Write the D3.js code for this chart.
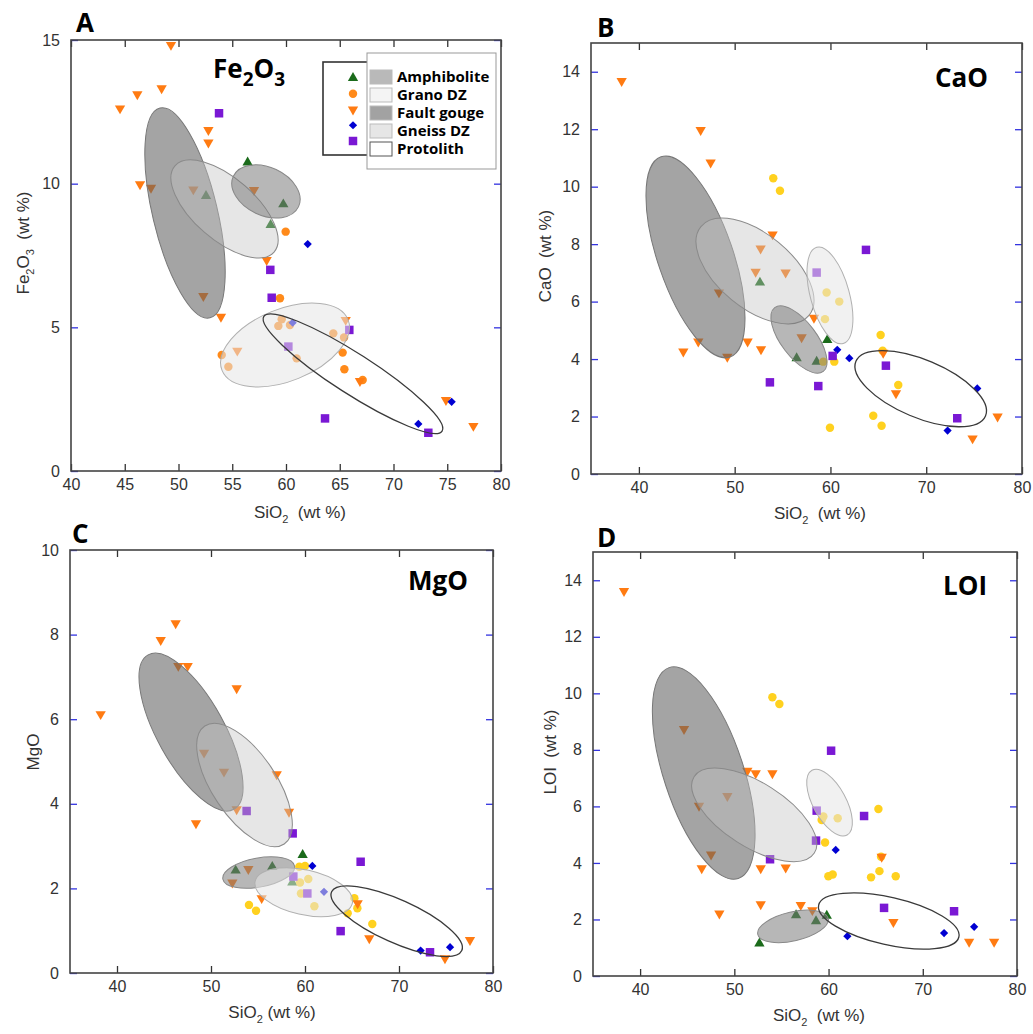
<!DOCTYPE html>
<html>
<head>
<meta charset="utf-8">
<script src="https://cdn.jsdelivr.net/npm/d3@7"></script>
<style>
  body { margin: 0; background: #fff; }
  svg { display: block; }
  .tick text { font-family: "Liberation Sans", Arial, sans-serif; font-size: 16px; fill: #333; }
  .bold { font-family: "Open Sans", "Noto Sans", sans-serif; font-weight: 700; fill: #000; }
  .atitle { font-family: "Liberation Sans", Arial, sans-serif; font-size: 17px; fill: #333; white-space: pre; }
</style>
</head>
<body>
<svg id="chart" width="1033" height="1034"></svg>
<script>
// categories
const groups = ["Amphibolite", "Grano DZ", "Fault gouge", "Gneiss DZ", "Protolith"];

// ---- A: Fe2O3 vs SiO2 ----
const feAmph = [[56.43,10.74],[52.56,9.57],[59.75,9.28],[58.57,8.56]];
const feGrano = [[59.97,8.33],[59.44,6.01],[59.6,5.28],[59.29,5.05],[60.37,5.08],[54.02,4.04],[54.64,3.63],
  [60.99,3.92],[64.4,4.79],[65.4,4.65],[65.27,4.12],[65.43,3.54],[67.13,3.17]];
const feFault = [[49.3,14.83],[44.56,12.62],[46.17,13.11],[48.43,13.32],[52.78,11.87],[52.78,11.43],[46.42,9.98],
  [47.44,9.86],[51.38,9.8],[57.02,9.78],[58.2,7.34],[52.31,6.09],[53.95,5.37],[55.47,4.19],[65.55,5.26],
  [66.88,3.13],[74.88,2.47],[77.43,1.57]];
const feGneiss = [[62.02,7.9],[60.62,5.16],[75.41,2.41],[72.31,1.64]];
const feProto = [[53.77,12.45],[58.54,7.0],[58.67,6.03],[65.89,4.91],[60.22,4.33],[63.63,1.83],[73.24,1.33]];
// ellipses: group, major axis end 1 (SiO2, oxide), end 2, minor/major ratio
const feEllipses = [
  ["Fault gouge", 48.28, 12.63, 52.93, 5.33, 0.30],
  ["Gneiss DZ", 49.67, 10.62, 58.89, 7.62, 0.47],
  ["Amphibolite", 55.1, 10.26, 61.17, 9.2, 0.67],
  ["Grano DZ", 54.05, 3.5, 65.77, 5.27, 0.53],
  ["Protolith", 57.94, 5.38, 74.52, 1.39, 0.19]
];

// ---- B: CaO vs SiO2 ----
const caAmph = [[52.64,6.66],[59.67,4.66],[56.47,4.03],[58.56,3.91]];
const caGrano = [[54.03,10.29],[54.73,9.86],[59.6,6.32],[60.92,6.0],[59.43,5.39],[59.25,3.91],[60.4,3.91],
  [65.24,4.84],[65.45,4.29],[67.08,3.1],[64.47,2.03],[65.34,1.68],[59.95,1.61]];
const caFault = [[38.2,13.68],[46.45,11.97],[47.49,10.84],[53.96,8.34],[52.71,7.85],[52.19,7.04],[55.32,7.01],
  [48.36,6.32],[58.28,5.44],[56.99,4.76],[44.64,4.26],[46.2,4.61],[49.23,4.08],[51.35,4.61],[52.75,4.34],
  [65.51,4.22],[66.84,2.81],[77.45,2.0],[74.84,1.24]];
const caGneiss = [[60.71,4.32],[61.97,4.03],[75.33,2.98],[72.23,1.51]];
const caProto = [[63.71,7.8],[58.56,7.01],[60.23,4.11],[65.79,3.77],[53.68,3.19],[58.73,3.06],[73.24,1.94]];
const caEllipses = [
  ["Fault gouge", 42.31, 11.04, 49.51, 4.07, 0.355],
  ["Gneiss DZ", 46.48, 8.61, 57.76, 5.52, 0.53],
  ["Amphibolite", 54.18, 5.79, 59.25, 3.57, 0.44],
  ["Grano DZ", 58.57, 7.89, 61.33, 4.54, 0.39],
  ["Protolith", 62.66, 3.92, 76.19, 2.02, 0.41]
];

// ---- C: MgO vs SiO2 ----
const mgAmph = [[52.62,2.42],[56.52,2.51],[59.75,2.79],[58.65,2.14]];
const mgGrano = [[59.4,2.51],[60.0,2.53],[59.47,2.14],[60.35,2.22],[59.57,1.88],[61.0,1.58],[54.04,1.61],
  [54.79,1.47],[64.54,1.41],[65.25,1.77],[65.57,1.53],[67.16,1.16]];
const mgFault = [[38.26,6.12],[44.65,7.87],[46.24,8.27],[46.52,7.26],[47.52,7.26],[52.73,6.73],[49.26,5.21],
  [51.38,4.76],[56.99,4.7],[52.73,3.87],[58.3,3.81],[48.4,3.54],[53.97,2.46],[52.27,2.14],[55.39,1.77],
  [65.6,1.65],[66.84,0.82],[77.55,0.78],[74.89,0.35]];
const mgGneiss = [[60.78,2.53],[62.02,1.92],[75.43,0.61],[72.3,0.53]];
const mgProto = [[53.79,3.83],[58.69,3.3],[65.92,2.63],[58.76,2.28],[60.25,1.88],[63.79,0.99],[73.3,0.49]];
const mgEllipses = [
  ["Fault gouge", 43.31, 7.52, 52.44, 3.87, 0.38],
  ["Gneiss DZ", 49.34, 5.84, 57.79, 3.05, 0.45],
  ["Amphibolite", 51.26, 2.22, 58.89, 2.53, 0.4],
  ["Grano DZ", 54.7, 2.17, 65.04, 1.65, 0.45],
  ["Protolith", 62.83, 1.92, 76.68, 0.53, 0.3]
];

// ---- D: LOI vs SiO2 ----
const loiAmph = [[56.55,2.15],[58.67,1.94],[59.81,2.13],[52.66,1.15]];
const loiGrano = [[54.04,9.86],[54.78,9.62],[59.45,5.64],[59.27,5.52],[60.97,5.58],[59.63,4.72],[65.29,5.91],
  [65.57,4.22],[59.98,3.53],[60.44,3.59],[64.51,3.49],[65.4,3.71],[67.13,3.53]];
const loiFault = [[38.29,13.62],[44.66,8.74],[49.26,6.37],[46.25,6.02],[47.53,4.3],[51.38,7.26],[52.27,7.17],
  [54.04,7.17],[46.54,3.81],[52.8,3.81],[55.45,3.84],[48.41,2.21],[52.8,2.54],[57.05,2.51],[58.28,2.33],
  [65.64,4.22],[66.88,1.91],[74.92,1.21],[77.57,1.21]];
const loiGneiss = [[60.76,4.46],[62.0,1.41],[72.26,1.52],[75.45,1.74]];
const loiProto = [[60.27,7.97],[58.74,5.85],[58.67,4.79],[53.79,4.13],[63.77,5.66],[65.89,2.41],[73.32,2.29]];
const loiEllipses = [
  ["Fault gouge", 43.08, 10.91, 50.42, 3.45, 0.36],
  ["Gneiss DZ", 45.73, 7.05, 58.49, 4.35, 0.45],
  ["Amphibolite", 52.49, 1.47, 59.97, 2.04, 0.4],
  ["Grano DZ", 58.24, 7.28, 61.97, 4.99, 0.45],
  ["Protolith", 58.95, 2.51, 73.83, 1.38, 0.33]
];

// tick values
const xTicksA = [40, 45, 50, 55, 60, 65, 70, 75, 80];
const xTicks = [40, 50, 60, 70, 80];
const yTicksA = [0, 5, 10, 15];
const yTicks15 = [0, 2, 4, 6, 8, 10, 12, 14];
const yTicks10 = [0, 2, 4, 6, 8, 10];

// ---------------- styles ----------------
const markerColor = {
  "Amphibolite": "#1b6b1b", "Grano DZ": "#ffd11f", "Fault gouge": "#ff7b12",
  "Gneiss DZ": "#0000d2", "Protolith": "#7a18d4"
};
const ellipseStyle = {
  "Fault gouge": {fill: "#626262", op: 0.58, stroke: "#777"},
  "Gneiss DZ":   {fill: "#c4c4c4", op: 0.42, stroke: "#8a8a8a"},
  "Amphibolite": {fill: "#7c7c7c", op: 0.55, stroke: "#888"},
  "Grano DZ":    {fill: "#e6e6e6", op: 0.55, stroke: "#b0b0b0"},
  "Protolith":   {fill: "none", op: 1, stroke: "#3a3a3a"}
};
const swatchFill = {
  "Amphibolite": "#b9b9b9", "Grano DZ": "#f4f4f4", "Fault gouge": "#a2a2a2",
  "Gneiss DZ": "#e6e6e6", "Protolith": "#fff"
};

const svg = d3.select("#chart");

function symbolPath(group) {
  if (group === "Amphibolite" || group === "Fault gouge") return d3.symbol(d3.symbolTriangle, 46)();
  if (group === "Grano DZ") return d3.symbol(d3.symbolCircle, 56)();
  if (group === "Gneiss DZ") return d3.symbol(d3.symbolSquare, 34)();
  return d3.symbol(d3.symbolSquare, 72)();
}
function symbolRotate(group) {
  if (group === "Fault gouge") return 180;
  if (group === "Gneiss DZ") return 45;
  return 0;
}

const panels = [
  {letter: "A", left: 71, top: 40, right: 501, bottom: 471, xDomain: [40, 80], yDomain: [0, 15],
   xTicks: xTicksA, yTicks: yTicksA, grano: "#ff8a1a",
   series: [feAmph, feGrano, feFault, feGneiss, feProto], ellipses: feEllipses,
   title: [["Fe", 0], ["2", 1], ["O", 0], ["3", 1]], titleX: 213, titleY: 78, titleAnchor: "start",
   ytitle: [["Fe", 0], ["2", 1], ["O", 0], ["3", 1], ["\u00a0 (wt %)", 0]], ytX: 29, ytY: 243,
   xtX: 300, xtY: 518, letterX: 76, letterY: 32},
  {letter: "B", left: 591, top: 43, right: 1022, bottom: 474, xDomain: [35, 80], yDomain: [0, 15],
   xTicks: xTicks, yTicks: yTicks15, grano: markerColor["Grano DZ"],
   series: [caAmph, caGrano, caFault, caGneiss, caProto], ellipses: caEllipses,
   title: [["CaO", 0]], titleX: 988, titleY: 87, titleAnchor: "end",
   ytitle: [["CaO\u00a0 (wt %)", 0]], ytX: 551, ytY: 256,
   xtX: 820, xtY: 519, letterX: 597, letterY: 37},
  {letter: "C", left: 70, top: 550, right: 493, bottom: 973, xDomain: [35, 80], yDomain: [0, 10],
   xTicks: xTicks, yTicks: yTicks10, grano: markerColor["Grano DZ"],
   series: [mgAmph, mgGrano, mgFault, mgGneiss, mgProto], ellipses: mgEllipses,
   title: [["MgO", 0]], titleX: 468, titleY: 590, titleAnchor: "end",
   ytitle: [["MgO", 0]], ytX: 39, ytY: 752,
   xtX: 272, xtY: 1018, letterX: 72, letterY: 543},
  {letter: "D", left: 593, top: 552, right: 1017, bottom: 976, xDomain: [35, 80], yDomain: [0, 15],
   xTicks: xTicks, yTicks: yTicks15, grano: markerColor["Grano DZ"],
   series: [loiAmph, loiGrano, loiFault, loiGneiss, loiProto], ellipses: loiEllipses,
   title: [["LOI", 0]], titleX: 987, titleY: 595, titleAnchor: "end",
   ytitle: [["LOI\u00a0 (wt %)", 0]], ytX: 556, ytY: 752,
   xtX: 819, xtY: 1021, letterX: 597, letterY: 547}
];

// write text made of normal and subscript pieces
function richText(sel, parts, size, subSize) {
  let shifted = false;
  parts.forEach(function(p) {
    const t = sel.append("tspan").text(p[0]);
    if (p[1] && !shifted) { t.attr("dy", size * 0.3).style("font-size", subSize + "px"); shifted = true; }
    else if (!p[1] && shifted) { t.attr("dy", -size * 0.3); shifted = false; }
    else if (p[1]) { t.style("font-size", subSize + "px"); }
  });
}

panels.forEach(drawPanel);
drawLegend();

function drawPanel(p) {
  const x = d3.scaleLinear().domain(p.xDomain).range([p.left, p.right]);
  const y = d3.scaleLinear().domain(p.yDomain).range([p.bottom, p.top]);
  const g = svg.append("g");

  // ticks, all pointing inward
  g.append("g").attr("transform", "translate(0," + p.bottom + ")")
    .call(d3.axisBottom(x).tickValues(p.xTicks).tickSizeInner(-7).tickSizeOuter(0).tickPadding(8))
    .call(a => a.select(".domain").remove())
    .call(a => a.selectAll("line").attr("stroke", "#333").attr("stroke-width", 1.3));
  g.append("g").attr("transform", "translate(0," + p.top + ")")
    .call(d3.axisTop(x).tickValues(p.xTicks).tickSizeInner(-7).tickSizeOuter(0).tickFormat(""))
    .call(a => a.select(".domain").remove())
    .call(a => a.selectAll("line").attr("stroke", "#333").attr("stroke-width", 1.3));
  g.append("g").attr("transform", "translate(" + p.left + ",0)")
    .call(d3.axisLeft(y).tickValues(p.yTicks).tickSizeInner(-7).tickSizeOuter(0).tickPadding(11))
    .call(a => a.select(".domain").remove())
    .call(a => a.selectAll("line").attr("stroke", "#3333e0").attr("stroke-width", 1.3));
  g.append("g").attr("transform", "translate(" + p.right + ",0)")
    .call(d3.axisRight(y).tickValues(p.yTicks).tickSizeInner(-7).tickSizeOuter(0).tickFormat(""))
    .call(a => a.select(".domain").remove())
    .call(a => a.selectAll("line").attr("stroke", "#3333e0").attr("stroke-width", 1.3));

  // points
  p.series.forEach(function(pts, i) {
    const grp = groups[i];
    const col = grp === "Grano DZ" ? p.grano : markerColor[grp];
    g.append("g").selectAll("path").data(pts).enter().append("path")
      .attr("d", symbolPath(grp))
      .attr("fill", col)
      .attr("transform", d => "translate(" + x(d[0]) + "," + y(d[1]) + ") rotate(" + symbolRotate(grp) + ")");
  });

  // ellipses drawn over the points (semi transparent)
  g.append("g").selectAll("ellipse").data(p.ellipses).enter().append("ellipse")
    .each(function(e) {
      const x1 = x(e[1]), y1 = y(e[2]), x2 = x(e[3]), y2 = y(e[4]);
      const cx = (x1 + x2) / 2, cy = (y1 + y2) / 2;
      const a = Math.hypot(x2 - x1, y2 - y1) / 2;
      const ang = Math.atan2(y2 - y1, x2 - x1) * 180 / Math.PI;
      const st = ellipseStyle[e[0]];
      d3.select(this)
        .attr("cx", cx).attr("cy", cy).attr("rx", a).attr("ry", a * e[5])
        .attr("transform", "rotate(" + ang + "," + cx + "," + cy + ")")
        .attr("fill", st.fill).attr("fill-opacity", st.op)
        .attr("stroke", st.stroke).attr("stroke-width", e[0] === "Protolith" ? 1.3 : 1);
    });

  // frame
  g.append("rect")
    .attr("x", p.left).attr("y", p.top)
    .attr("width", p.right - p.left).attr("height", p.bottom - p.top)
    .attr("fill", "none").attr("stroke", "#444").attr("stroke-width", 1.6);

  // panel letter
  g.append("text").attr("class", "bold").attr("x", p.letterX).attr("y", p.letterY)
    .style("font-size", "26px").text(p.letter);

  // title inside the plot
  const t = g.append("text").attr("class", "bold").attr("x", p.titleX).attr("y", p.titleY)
    .attr("text-anchor", p.titleAnchor).style("font-size", "26px");
  richText(t, p.title, 26, 19);

  // axis titles
  const xt = g.append("text").attr("class", "atitle").attr("x", p.xtX).attr("y", p.xtY)
    .attr("text-anchor", "middle");
  richText(xt, [["SiO", 0], ["2", 1], [p.letter === "C" ? " (wt %)" : "\u00a0 (wt %)", 0]], 17, 11);

  const yt = g.append("text").attr("class", "atitle")
    .attr("transform", "translate(" + p.ytX + "," + p.ytY + ") rotate(-90)")
    .attr("text-anchor", "middle");
  richText(yt, p.ytitle, 17, 11);
}

function drawLegend() {
  const lg = svg.append("g");
  // box with the markers
  lg.append("rect").attr("x", 323).attr("y", 62).attr("width", 120).attr("height", 93)
    .attr("fill", "#fff").attr("stroke", "#333").attr("stroke-width", 1.6);
  const markerY = d3.scalePoint().domain(groups).range([78, 141]);
  groups.forEach(function(grp) {
    lg.append("path").attr("d", symbolPath(grp))
      .attr("fill", grp === "Grano DZ" ? "#ff8a1a" : markerColor[grp])
      .attr("transform", "translate(353," + markerY(grp) + ") rotate(" + symbolRotate(grp) + ")");
  });
  // box with the ellipse swatches
  lg.append("rect").attr("x", 367).attr("y", 53).attr("width", 129).attr("height", 116)
    .attr("fill", "#fff").attr("stroke", "#999").attr("stroke-width", 1);
  const rowY = d3.scalePoint().domain(groups).range([77, 149]);
  groups.forEach(function(grp) {
    lg.append("rect").attr("x", 370).attr("y", rowY(grp) - 7).attr("width", 22).attr("height", 14)
      .attr("fill", swatchFill[grp]).attr("stroke", grp === "Protolith" ? "#555" : "#bbb");
    lg.append("text").attr("class", "bold").attr("x", 397).attr("y", rowY(grp)).attr("dy", "0.35em")
      .style("font-size", "15px").text(grp);
  });
}
</script>
</body>
</html>
